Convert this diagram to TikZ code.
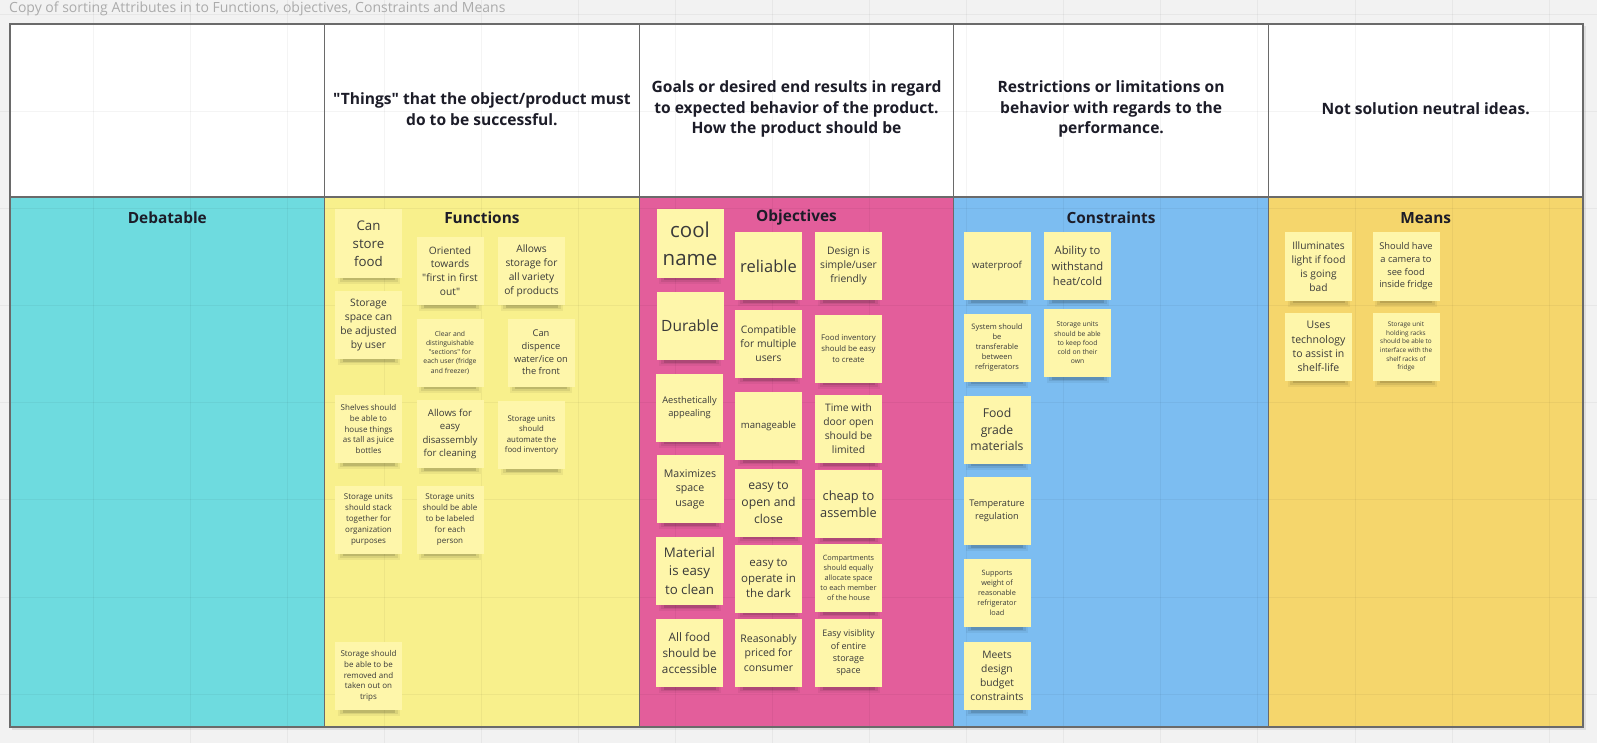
\documentclass[tikz,border=0pt]{standalone}
\usepackage{fontspec}
\setmainfont{Open Sans}[Ligatures=TeXOff]
\definecolor{bgc}{HTML}{F2F2F2}
\definecolor{gridc}{HTML}{000000}
\definecolor{framec}{HTML}{6A6A6A}
\definecolor{debc}{HTML}{6EDBDF}
\definecolor{funcc}{HTML}{F8F08C}
\definecolor{objc}{HTML}{E35E9B}
\definecolor{conc}{HTML}{7CBDF1}
\definecolor{meac}{HTML}{F5D66C}
\definecolor{stkc}{HTML}{FEF6AA}
\definecolor{txtc}{HTML}{3A3A3A}
\definecolor{headc}{HTML}{1C1C28}
\definecolor{titlec}{HTML}{ABABAB}
\newcommand\sticky[5]{%
  \fill[black,opacity=0.05] ({#2-31},{#3+28}) rectangle ({#2+31},{#3+40});
  \fill[black,opacity=0.08] ({#2-29},{#3+30}) rectangle ({#2+29},{#3+38});
  \fill[black,opacity=0.12] ({#2-26},{#3+32}) rectangle ({#2+26},{#3+36.5});
  \node[stickybox,font=\fontsize{#4}{\dimexpr #4pt*136/100\relax}\selectfont] (#1) at (#2,#3) {#5};
}
\begin{document}
\begin{tikzpicture}[x=1pt,y=-1pt,
  stickybox/.style={fill=stkc, minimum width=67, minimum height=68, inner sep=0pt, align=center, text=txtc},
  headtext/.style={align=center, text=headc, font=\fontsize{15.6}{20.4}\selectfont\bfseries},
  colhead/.style={text=headc, font=\fontsize{15.4}{20}\selectfont\bfseries},
  gridline/.style={draw=gridc, opacity=0.045, line width=1},
  framel/.style={draw=framec, line width=1.2}]
\fill[bgc] (0,0) rectangle (1597,743);
\useasboundingbox (0,0) rectangle (1597,743);
% frame shadow
\fill[black,opacity=0.08] (12,26) rectangle (1585.5,729.5);
% header cells
\fill[white] (10,24) rectangle (1583,197);
% panels
\fill[debc] (10,197) rectangle (324.6,727);
\fill[funcc] (324.6,197) rectangle (639.2,727);
\fill[objc] (639.2,197) rectangle (953.8,727);
\fill[conc] (953.8,197) rectangle (1268.4,727);
\fill[meac] (1268.4,197) rectangle (1583,727);
% grid
\foreach \i in {0,...,16} \draw[gridline] ({-4+97.07*\i},0) -- ({-4+97.07*\i},743);
\foreach \j in {0,...,7} \draw[gridline] (0,{14.6+97.07*\j}) -- (1597,{14.6+97.07*\j});
% frame
\draw[framel] (10,24) rectangle (1583,727);
\draw[framel] (10,197) -- (1583,197);
\foreach \cx in {324.6,639.2,953.8,1268.4} \draw[framel] (\cx,24) -- (\cx,727);
% title
\node[anchor=west, text=titlec, font=\fontsize{14}{17}\selectfont, inner sep=0pt] (title) at (9,9) {Copy of sorting Attributes in to Functions, objectives, Constraints and Means};
% header texts
\node[headtext] (h2) at (481.9,109) {"Things" that the object/product must\\do to be successful.};
\node[headtext] (h3) at (796.5,109) {Goals or desired end results in regard\\to expected behavior of the product.\\How the product should be};
\node[headtext] (h4) at (1111.1,109) {Restrictions or limitations on\\behavior with regards to the\\performance.};
\node[headtext] (h5) at (1425.7,109) {Not solution neutral ideas.};
% column headings
\node[colhead] (debatable) at (167.3,218) {Debatable};
\node[colhead] (functions) at (481.9,218) {Functions};
\node[colhead] (objectives) at (796.5,218) {Objectives};
\node[colhead] (constraints) at (1111.1,218) {Constraints};
\node[colhead] (means) at (1425.7,218) {Means};
% Functions
\sticky{f1}{368.5}{243.5}{13.3}{Can\\store\\food}
\sticky{f2}{368.5}{325}{10.3}{Storage\\space can\\be adjusted\\by user}
\sticky{f3}{450}{271}{10.2}{Oriented\\towards\\"first in first\\out"}
\sticky{f4}{531.5}{271}{10.2}{Allows\\storage for\\all variety\\of products}
\sticky{f5}{450}{352.5}{6.8}{Clear and\\distinguishable\\"sections" for\\each user (fridge\\and freezer)}
\sticky{f6}{541}{352.5}{9.3}{Can\\dispence\\water/ice on\\the front}
\sticky{f7}{368.5}{429}{8}{Shelves should\\be able to\\house things\\as tall as juice\\bottles}
\sticky{f8}{450}{434}{9.6}{Allows for\\easy\\disassembly\\for cleaning}
\sticky{f9}{531.5}{435}{7.8}{Storage units\\should\\automate the\\food inventory}
\sticky{f10}{368.5}{519.5}{8}{Storage units\\should stack\\together for\\organization\\purposes}
\sticky{f11}{450}{519.5}{8}{Storage units\\should be able\\to be labeled\\for each\\person}
\sticky{f12}{368.5}{676}{8}{Storage should\\be able to be\\removed and\\taken out on\\trips}
% Objectives
\sticky{o1}{690}{243.5}{20.5}{cool\\name}
\sticky{o2}{768.5}{266}{16.5}{reliable}
\sticky{o3}{848.5}{266}{10.3}{Design is\\simple/user\\friendly}
\sticky{o4}{690}{326}{15.5}{Durable}
\sticky{o5}{768.5}{344}{10.3}{Compatible\\for multiple\\users}
\sticky{o6}{848.5}{348.5}{7.8}{Food inventory\\should be easy\\to create}
\sticky{o7}{689.5}{407.5}{9.3}{Aesthetically\\appealing}
\sticky{o8}{768.5}{426}{9.6}{manageable}
\sticky{o9}{848.5}{429}{10.3}{Time with\\door open\\should be\\limited}
\sticky{o10}{690}{489}{10.6}{Maximizes\\space\\usage}
\sticky{o11}{768.5}{502.5}{12.2}{easy to\\open and\\close}
\sticky{o12}{848.5}{504}{12.8}{cheap to\\assemble}
\sticky{o13}{689.5}{571}{13.3}{Material\\is easy\\to clean}
\sticky{o14}{768.5}{578.5}{11.5}{easy to\\operate in\\the dark}
\sticky{o15}{848.5}{578}{7.3}{Compartments\\should equally\\allocate space\\to each member\\of the house}
\sticky{o16}{689.5}{653}{11.7}{All food\\should be\\accessible}
\sticky{o17}{768.5}{653}{10.5}{Reasonably\\priced for\\consumer}
\sticky{o18}{848.5}{653}{9}{Easy visiblity\\of entire\\storage\\space}
% Constraints
\sticky{c1}{997}{266}{9.6}{waterproof}
\sticky{c2}{1077.5}{266}{11.2}{Ability to\\withstand\\heat/cold}
\sticky{c3}{997}{347.5}{7.5}{System should\\be\\transferable\\between\\refrigerators}
\sticky{c4}{1077.5}{343}{6.8}{Storage units\\should be able\\to keep food\\cold on their\\own}
\sticky{c5}{997}{429.5}{12.2}{Food\\grade\\materials}
\sticky{c6}{997}{511}{9.2}{Temperature\\regulation}
\sticky{c7}{997}{593}{7.3}{Supports\\weight of\\reasonable\\refrigerator\\load}
\sticky{c8}{997}{676}{10.3}{Meets\\design\\budget\\constraints}
% Means
\sticky{m1}{1318.5}{266.5}{10.2}{Illuminates\\light if food\\is going\\bad}
\sticky{m2}{1406}{266.5}{9.3}{Should have\\a camera to\\see food\\inside fridge}
\sticky{m3}{1318.5}{346.5}{10.5}{Uses\\technology\\to assist in\\shelf-life}
\sticky{m4}{1406}{346.5}{6.4}{Storage unit\\holding racks\\should be able to\\interface with the\\shelf racks of\\fridge}
\end{tikzpicture}
\end{document}
